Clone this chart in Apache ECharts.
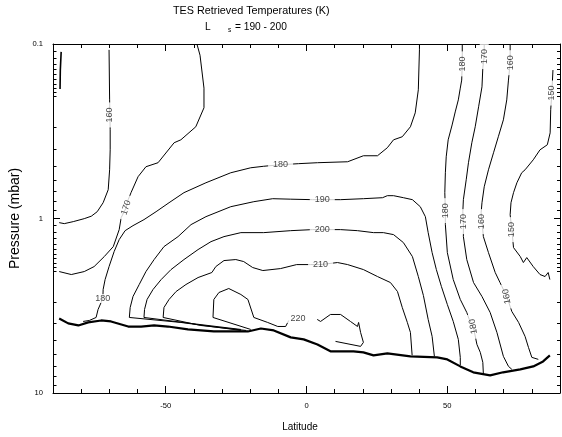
<!DOCTYPE html>
<html>
<head>
<meta charset="utf-8">
<script src="https://cdn.jsdelivr.net/npm/echarts@6/dist/echarts.min.js"></script>
<style>html,body{margin:0;padding:0;background:#fff}#c{width:562px;height:437px}</style>
</head>
<body>
<div id="c"></div>
<script>
// ---------- tick labels ----------
const xTickLabels = [-50, 0, 50];
const yTickLabels = [0.1, 1, 10];
const xMinorTicks = [-90,-80,-70,-60,-50,-40,-30,-20,-10,0,10,20,30,40,50,60,70,80,90];
const yMinorTicks = [0.11,0.12,0.13,0.14,0.15,0.16,0.17,0.18,0.19,0.2,0.3,0.4,0.5,0.6,0.7,0.8,0.9,
                     1.1,1.2,1.3,1.4,1.5,1.6,1.7,1.8,1.9,2,3,4,5,6,7,8,9];

// ---------- contour lines: [latitude, pressure (mbar)] ----------
const surface = [[-87.8,3.74],[-84.6,3.99],[-81.0,4.10],[-77.5,3.94],[-72.9,3.84],[-69.4,3.89],[-63.3,4.16],[-58.7,4.16],[-54.1,4.10],[-49.2,4.16],[-42.1,4.32],[-37.5,4.38],[-32.9,4.44],[-20.8,4.44],[-16.2,4.27],[-11.6,4.38],[-5.6,4.80],[-1.0,4.93],[3.9,5.27],[8.5,5.77],[12.1,5.77],[16.7,5.77],[20.2,5.85],[23.8,6.09],[28.7,5.93],[36.9,6.17],[46.4,6.25],[50.0,6.42],[54.6,7.04],[59.2,7.61],[65.2,7.92],[69.8,7.61],[75.9,7.32],[80.5,7.04],[84.0,6.59],[86.4,6.09]];

const c150L = [[-87.1,0.111],[-87.4,0.141],[-87.5,0.181]];

const c160L = [[-70.1,0.108],[-69.9,0.209],[-69.7,0.310],[-69.7,0.404],[-69.9,0.526],[-70.4,0.684],[-72.2,0.812],[-74.3,0.914],[-76.4,0.970],[-78.9,1.002],[-82.8,1.042],[-86.0,1.070],[-87.8,1.056]];

const c170L = [[-38.9,0.100],[-37.8,0.116],[-36.4,0.179],[-36.4,0.232],[-39.3,0.298],[-44.6,0.354],[-47.0,0.368],[-52.7,0.479],[-57.0,0.505],[-59.8,0.576],[-62.3,0.711],[-63.3,0.780],[-64.0,0.867],[-65.8,0.989],[-66.5,1.158],[-68.6,1.449],[-71.8,1.653],[-75.4,1.886],[-78.9,2.014],[-83.5,2.095],[-87.8,2.014]];

const c180 = [[40.1,0.100],[40.1,0.108],[39.7,0.183],[38.6,0.248],[36.9,0.298],[34.0,0.340],[30.9,0.354],[28.7,0.393],[25.2,0.437],[20.2,0.437],[14.6,0.473],[3.9,0.479],[-2.8,0.485],[-9.2,0.492],[-15.2,0.502],[-19.8,0.512],[-26.9,0.547],[-35.7,0.624],[-43.5,0.711],[-48.8,0.812],[-53.4,0.914],[-57.7,1.015],[-61.6,1.099],[-64.4,1.174],[-66.5,1.321],[-68.3,1.548],[-70.1,1.886],[-71.5,2.238],[-72.2,2.553],[-72.3,2.873],[-74.0,3.322],[-74.7,3.691],[-77.1,3.840],[-79.3,3.890]];

const c190 = [[-23.3,4.380],[-44.6,3.942],[-62.9,3.691],[-62.6,3.236],[-61.6,2.799],[-59.4,2.390],[-57.0,2.014],[-54.1,1.719],[-50.6,1.449],[-45.6,1.270],[-41.0,1.084],[-35.7,0.976],[-26.9,0.856],[-18.7,0.801],[-12.0,0.770],[-5.6,0.775],[2.1,0.780],[5.6,0.780],[12.1,0.780],[20.2,0.770],[27.0,0.760],[28.7,0.740],[30.9,0.740],[34.4,0.760],[37.6,0.780],[40.4,0.856],[42.2,0.976],[43.2,1.205],[44.6,1.568],[46.1,1.962],[47.9,2.454],[50.0,3.110],[52.1,3.890],[53.9,4.930],[54.6,6.249],[54.6,6.943]];

const c200 = [[-23.3,4.323],[-41.0,3.994],[-57.7,3.691],[-57.5,3.322],[-56.6,2.911],[-54.5,2.553],[-51.6,2.238],[-48.1,1.962],[-43.5,1.719],[-38.5,1.507],[-33.9,1.357],[-29.3,1.270],[-23.3,1.205],[-15.2,1.205],[-5.6,1.174],[2.1,1.158],[5.6,1.158],[12.1,1.158],[18.1,1.174],[23.8,1.205],[27.3,1.205],[30.9,1.237],[34.4,1.374],[37.6,1.653],[39.7,2.151],[41.5,2.762],[43.2,3.789],[44.6,4.739],[45.4,6.166]];

const c210 = [[-21.5,4.380],[-37.5,4.103],[-50.9,3.691],[-50.6,3.236],[-48.8,2.911],[-46.3,2.621],[-42.8,2.390],[-38.5,2.180],[-33.6,2.040],[-32.2,1.886],[-29.3,1.742],[-25.1,1.719],[-22.3,1.765],[-19.1,1.910],[-15.5,1.987],[-9.2,1.936],[-3.5,1.837],[1.5,1.837],[5.0,1.837],[11.0,1.788],[14.6,1.837],[20.2,1.962],[25.2,2.151],[29.8,2.328],[32.3,2.621],[34.0,3.236],[35.8,3.942],[36.9,4.497],[37.5,6.085]];

const c220a = [[-19.8,4.323],[-33.2,3.691],[-32.9,2.911],[-31.1,2.656],[-27.6,2.519],[-23.3,2.726],[-20.8,2.911],[-18.7,3.691],[-13.8,3.942],[-10.2,4.157],[-7.4,4.157],[-6.3,3.840]];
const c220b = [[3.8,3.789],[5.0,3.890],[8.5,3.548],[12.1,3.548],[15.6,3.890],[18.1,4.157],[18.5,3.942],[19.2,4.497],[20.2,5.129],[19.2,5.406],[10.3,5.062]];

const c180R = [[55.3,0.100],[55.3,0.130],[55.1,0.161],[54.6,0.179],[53.9,0.209],[52.8,0.245],[51.7,0.291],[50.3,0.354],[49.6,0.443],[49.3,0.547],[49.1,0.711],[49.3,0.902],[49.3,1.084],[50.0,1.568],[52.1,2.238],[54.6,2.911],[56.9,3.456],[57.8,3.789],[59.2,4.157],[60.5,5.266],[61.7,5.850],[62.6,6.675],[62.8,7.816]];

const c170R = [[63.1,0.100],[63.1,0.118],[62.6,0.137],[62.3,0.176],[61.1,0.229],[59.9,0.298],[58.7,0.368],[57.5,0.479],[56.7,0.600],[55.7,0.780],[55.5,0.914],[55.7,1.042],[55.7,1.270],[56.9,1.719],[59.3,2.328],[62.3,2.799],[65.2,3.456],[67.6,4.497],[69.9,6.166],[71.7,7.036],[72.9,7.316]];

const c160R = [[72.3,0.100],[72.3,0.128],[71.7,0.161],[71.1,0.209],[69.9,0.272],[68.1,0.340],[66.4,0.420],[64.6,0.526],[63.1,0.658],[62.3,0.812],[62.0,0.926],[62.3,1.042],[62.8,1.270],[64.6,1.568],[67.0,2.040],[68.7,2.328],[71.1,2.799],[72.9,3.411],[75.3,3.942],[77.6,4.739],[78.8,5.478],[80.0,6.249],[82.3,6.416]];

const c150R = [[87.5,0.141],[87.1,0.191],[86.7,0.238],[86.5,0.323],[85.5,0.378],[82.9,0.404],[80.5,0.461],[77.6,0.526],[76.4,0.547],[74.7,0.624],[73.5,0.711],[72.6,0.812],[72.3,0.951],[72.9,1.158],[73.5,1.468],[75.9,1.653],[77.0,1.788],[78.2,1.675],[80.5,1.886],[82.9,2.095],[84.7,2.151],[85.8,2.040],[86.4,2.238]];

// ---------- contour labels ----------
const labelLat  = [-69.8,-64.0,-72.3,-9.2,5.6,5.6,5.0,-3.0,55.3,63.1,72.3,87.1,49.3,55.7,62.3,72.9,71.1,59.2];
const labelP    = [0.255,0.867,2.873,0.492,0.780,1.158,1.837,3.740,0.130,0.118,0.128,0.191,0.902,1.042,1.042,1.158,2.799,4.157];
const labelText = ['160','170','180','180','190','200','210','220','180','170','160','150','180','170','160','150','160','180'];

// ---------- rendering ----------
const FONT = '"Liberation Sans", Arial, Helvetica, sans-serif';
const labelRotate = [90,72,0,0,0,0,0,0,90,90,90,90,90,90,90,90,100,100];
const black = {color:'#000', width:1};

function lineSeries(data, w) {
  return {type:'line', data: data, xAxisIndex:0, yAxisIndex:0, symbol:'none', showSymbol:false,
          lineStyle:{color:'#000', width:w}, silent:true, animation:false, z:2, emphasis:{disabled:true}};
}
const thin = [c150L, c160L, c170L, c180, c190, c200, c210, c220a, c220b, c180R, c170R, c160R, c150R];
const series = thin.map(d => lineSeries(d, d === c150L ? 1.6 : 1));
series.push(lineSeries(surface, 2.2));
series.push({
  type:'scatter', xAxisIndex:0, yAxisIndex:0, symbolSize:1, z:10, silent:true, animation:false,
  itemStyle:{color:'rgba(0,0,0,0)'},
  emphasis:{disabled:true},
  data: labelText.map((t,i) => ({value:[labelLat[i], labelP[i]], name:t, label:{rotate:labelRotate[i]}})),
  label:{show:true, position:'inside', formatter:'{b}', color:'#111', fontSize:9, fontFamily:FONT,
         backgroundColor:'#fff', padding:[0,5]}
});

function xAx(pos, ticks, len, extra) {
  return Object.assign({
    type:'value', min:-90, max:90, position:pos,
    splitLine:{show:false},
    axisLine:{show:false, onZero:false},
    axisTick:{show:true, inside:true, length:len, customValues:ticks, lineStyle:black},
    axisLabel:{show:false}
  }, extra || {});
}
const logTicks = v => v.map(x => Math.log10(x));
function yAx(pos, ticks, len, extra) {
  return Object.assign({
    type:'value', min:-1, max:1, inverse:true, position:pos,
    splitLine:{show:false},
    axisLine:{show:false, onZero:false},
    axisTick:{show:true, inside:true, length:len, customValues:logTicks(ticks), lineStyle:black},
    axisLabel:{show:false}
  }, extra || {});
}

const option = {
  backgroundColor:'#fff',
  animation:false,
  grid:{left:52, right:2, top:44, bottom:43, containLabel:false},
  graphic:[
    {type:'text', x:173, y:11, style:{text:'TES Retrieved Temperatures (K)', font:'10.8px ' + FONT, fill:'#000', verticalAlign:'middle', align:'left'}},
    {type:'text', x:205, y:27, style:{text:'L', font:'10.2px ' + FONT, fill:'#000', verticalAlign:'middle', align:'left'}},
    {type:'text', x:228, y:30, style:{text:'s', font:'6.5px ' + FONT, fill:'#000', verticalAlign:'middle', align:'left'}},
    {type:'text', x:235, y:27, style:{text:'= 190 - 200', font:'10.2px ' + FONT, fill:'#000', verticalAlign:'middle', align:'left'}}
  ],
  xAxis:[
    xAx('bottom', xMinorTicks, 4, {
      axisLine:{show:true, onZero:false, lineStyle:black},
      axisLabel:{show:true, customValues:xTickLabels, fontSize:7.6, color:'#000', fontFamily:FONT, margin:9},
      name:'Latitude', nameLocation:'middle', nameGap:29,
      nameTextStyle:{fontSize:10, color:'#000', fontFamily:FONT, padding:[0,13,0,0]}
    }),
    xAx('bottom', xTickLabels, 7),
    xAx('top', xMinorTicks, 4, {axisLine:{show:true, onZero:false, lineStyle:black}}),
    xAx('top', xTickLabels, 7)
  ],
  yAxis:[
    {type:'log', logBase:10, min:0.1, max:10, inverse:true, position:'left',
     splitLine:{show:false}, axisTick:{show:false}, axisLabel:{show:false},
     axisLine:{show:true, onZero:false, lineStyle:black},
     name:'Pressure (mbar)', nameLocation:'middle', nameGap:31, nameRotate:90,
     nameTextStyle:{fontSize:14, color:'#000', fontFamily:FONT}},
    yAx('left', yMinorTicks, 3.5, {
      axisLabel:{show:true, customValues:logTicks(yTickLabels), fontSize:7.6, color:'#000', fontFamily:FONT, margin:10,
        formatter: v => { const i = logTicks(yTickLabels).findIndex(l => Math.abs(l - v) < 1e-6); return i >= 0 ? String(yTickLabels[i]) : ''; }}
    }),
    yAx('left', yTickLabels, 7),
    yAx('right', yMinorTicks, 3, {axisLine:{show:true, onZero:false, lineStyle:black}}),
    yAx('right', yTickLabels, 6)
  ],
  series: series
};

const chart = echarts.init(document.getElementById('c'), null, {renderer:'canvas', width:562, height:437});
chart.setOption(option);
</script>
</body>
</html>
